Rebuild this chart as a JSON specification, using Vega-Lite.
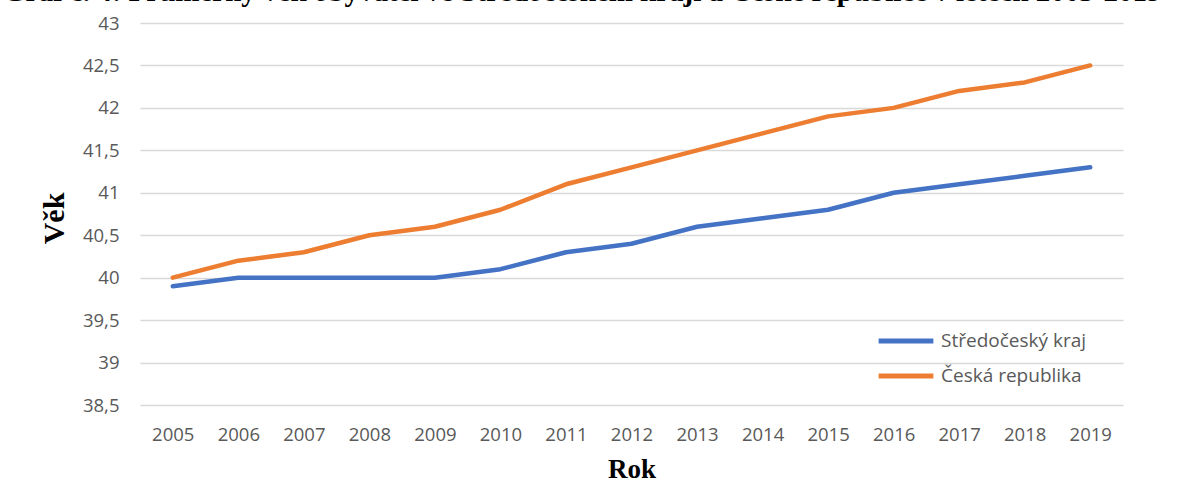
{
  "$schema": "https://vega.github.io/schema/vega-lite/v6.json",
  "autosize": {"type": "none"},
  "width": 983,
  "height": 382,
  "padding": {"left": 140, "top": 23, "right": 55, "bottom": 86},
  "background": "white",
  "title": {
    "text": "Graf č. 4: Průměrný věk obyvatel ve Středočeském kraji a České republice v letech 2005-2019",
    "anchor": "start",
    "frame": "group",
    "dx": -137,
    "dy": 26,
    "offset": 4,
    "baseline": "bottom",
    "font": "Liberation Serif",
    "fontWeight": "bold",
    "fontSize": 29,
    "color": "#000000"
  },
  "data": {
    "values": [
      {"rok": "2005", "oblast": "Středočeský kraj", "vek": 39.9},
      {"rok": "2006", "oblast": "Středočeský kraj", "vek": 40.0},
      {"rok": "2007", "oblast": "Středočeský kraj", "vek": 40.0},
      {"rok": "2008", "oblast": "Středočeský kraj", "vek": 40.0},
      {"rok": "2009", "oblast": "Středočeský kraj", "vek": 40.0},
      {"rok": "2010", "oblast": "Středočeský kraj", "vek": 40.1},
      {"rok": "2011", "oblast": "Středočeský kraj", "vek": 40.3},
      {"rok": "2012", "oblast": "Středočeský kraj", "vek": 40.4},
      {"rok": "2013", "oblast": "Středočeský kraj", "vek": 40.6},
      {"rok": "2014", "oblast": "Středočeský kraj", "vek": 40.7},
      {"rok": "2015", "oblast": "Středočeský kraj", "vek": 40.8},
      {"rok": "2016", "oblast": "Středočeský kraj", "vek": 41.0},
      {"rok": "2017", "oblast": "Středočeský kraj", "vek": 41.1},
      {"rok": "2018", "oblast": "Středočeský kraj", "vek": 41.2},
      {"rok": "2019", "oblast": "Středočeský kraj", "vek": 41.3},
      {"rok": "2005", "oblast": "Česká republika", "vek": 40.0},
      {"rok": "2006", "oblast": "Česká republika", "vek": 40.2},
      {"rok": "2007", "oblast": "Česká republika", "vek": 40.3},
      {"rok": "2008", "oblast": "Česká republika", "vek": 40.5},
      {"rok": "2009", "oblast": "Česká republika", "vek": 40.6},
      {"rok": "2010", "oblast": "Česká republika", "vek": 40.8},
      {"rok": "2011", "oblast": "Česká republika", "vek": 41.1},
      {"rok": "2012", "oblast": "Česká republika", "vek": 41.3},
      {"rok": "2013", "oblast": "Česká republika", "vek": 41.5},
      {"rok": "2014", "oblast": "Česká republika", "vek": 41.7},
      {"rok": "2015", "oblast": "Česká republika", "vek": 41.9},
      {"rok": "2016", "oblast": "Česká republika", "vek": 42.0},
      {"rok": "2017", "oblast": "Česká republika", "vek": 42.2},
      {"rok": "2018", "oblast": "Česká republika", "vek": 42.3},
      {"rok": "2019", "oblast": "Česká republika", "vek": 42.5}
    ]
  },
  "mark": {"type": "line", "strokeWidth": 4.5, "strokeCap": "round", "strokeJoin": "round"},
  "encoding": {
    "x": {
      "field": "rok",
      "type": "ordinal",
      "scale": {"type": "point", "padding": 0.5},
      "axis": {
        "title": "Rok",
        "labelAngle": 0,
        "labelPadding": 20,
        "titleY": 72,
        "titleBaseline": "alphabetic",
        "titleFontSize": 27,
        "domain": false,
        "ticks": false,
        "grid": false
      }
    },
    "y": {
      "field": "vek",
      "type": "quantitative",
      "scale": {"domain": [38.5, 43], "nice": false, "zero": false},
      "axis": {
        "title": "Věk",
        "values": [38.5, 39, 39.5, 40, 40.5, 41, 41.5, 42, 42.5, 43],
        "labelExpr": "replace(format(datum.value, '.1~f'), '.', ',')",
        "labelPadding": 21,
        "titleX": -77,
        "titleY": 195,
        "titleAngle": -90,
        "titleAlign": "center",
        "titleBaseline": "alphabetic",
        "titleFontSize": 30,
        "domain": false,
        "ticks": false,
        "grid": true
      }
    },
    "color": {
      "field": "oblast",
      "type": "nominal",
      "sort": ["Středočeský kraj", "Česká republika"],
      "scale": {"domain": ["Středočeský kraj", "Česká republika"], "range": ["#4472C4", "#ED7D31"]},
      "legend": {
        "title": null,
        "orient": "none",
        "legendX": 736,
        "legendY": 308,
        "symbolType": "stroke",
        "symbolSize": 3000,
        "symbolStrokeWidth": 5,
        "clipHeight": 20,
        "rowPadding": 15,
        "labelOffset": 5,
        "labelFont": "Open Sans",
        "labelFontSize": 19,
        "labelColor": "#595959",
        "labelLimit": 300
      }
    }
  },
  "config": {
    "view": {"stroke": null},
    "axis": {
      "labelFont": "Open Sans",
      "labelFontSize": 18.5,
      "labelColor": "#595959",
      "gridColor": "#d9d9d9",
      "gridWidth": 1.5,
      "titleFont": "Liberation Serif",
      "titleFontWeight": "bold",
      "titleColor": "#000000"
    }
  }
}
